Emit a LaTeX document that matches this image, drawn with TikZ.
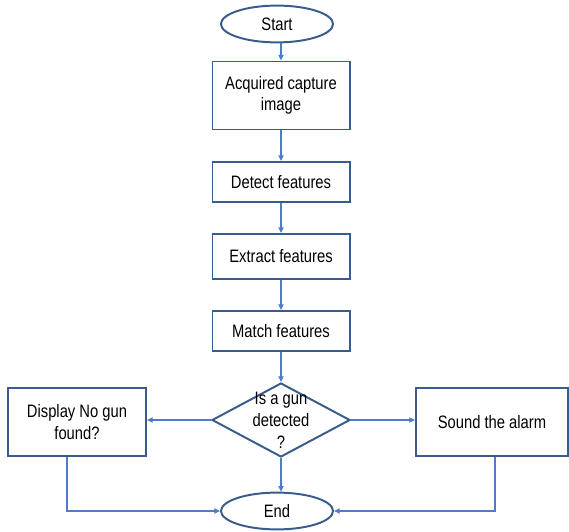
\documentclass[tikz,border=0pt]{standalone}
\usepackage{fontspec}
\setmainfont{Liberation Sans}[FakeStretch=0.82]
\usetikzlibrary{shapes.geometric, arrows.meta}
\definecolor{boxblue}{RGB}{58,92,140}
\definecolor{flowblue}{RGB}{79,124,200}

\begin{document}
\begin{tikzpicture}[
    x=0.025cm, y=-0.025cm,
    terminal/.style={ellipse, draw=boxblue, line width=1.4pt, minimum width=2.8cm, minimum height=0.92cm, inner sep=0pt, font=\fontsize{12.8}{15.4}\selectfont},
    process/.style={rectangle, draw=boxblue, line width=1.4pt, minimum width=3.425cm, inner sep=0pt, align=center, font=\fontsize{12.8}{15.4}\selectfont},
    decision/.style={diamond, draw=boxblue, line width=1.4pt, minimum width=3.45cm, minimum height=1.85cm, inner sep=0pt},
    arrow/.style={-{Triangle[length=1.4mm, width=1.3mm]}, color=flowblue, line width=0.8pt}
]
\useasboundingbox (0,0) rectangle (569,531);

% Start
\node[terminal] (start) at (277,24) {Start};

% Main steps
\node[process, minimum height=1.7cm] (acquire) at (281,95.5) {Acquired capture\\image};
\node[process, minimum height=1.0cm] (detect) at (281,182) {Detect features};
\node[process, minimum height=1.125cm] (extract) at (281,256.5) {Extract features};
\node[process, minimum height=1.0cm] (match) at (281,331) {Match features};

% Decision
\node[decision] (gun) at (281,420) {};
\node[align=center, font=\fontsize{12.8}{15.6}\selectfont] (guntext) at (281,420) {Is a gun\\detected\\?};

% Outcomes
\node[process, minimum width=3.45cm, minimum height=1.7cm] (nogun) at (77,422) {Display No gun\\found?};
\node[process, minimum width=3.8cm, minimum height=1.7cm] (alarm) at (492,422) {Sound the alarm};

% End
\node[terminal] (stop) at (277,511) {End};

% Arrows: main flow
\draw[arrow] (start.south -| acquire) -- (acquire.north);
\draw[arrow] (acquire) -- (detect);
\draw[arrow] (detect) -- (extract);
\draw[arrow] (extract) -- (match);
\draw[arrow] (match) -- (gun.north);

% Arrows: decision branches
\draw[arrow] (gun.west) -- (gun.west -| nogun.east);
\draw[arrow] (gun.east) -- (gun.east -| alarm.west);
\draw[arrow] (gun.south) -- (gun.south |- stop.north);

% Arrows: back to end
\draw[arrow] ([xshift=-10*0.025cm]nogun.south) |- (stop.west);
\draw[arrow] ([xshift=3*0.025cm]alarm.south) |- (stop.east);

\end{tikzpicture}
\end{document}
